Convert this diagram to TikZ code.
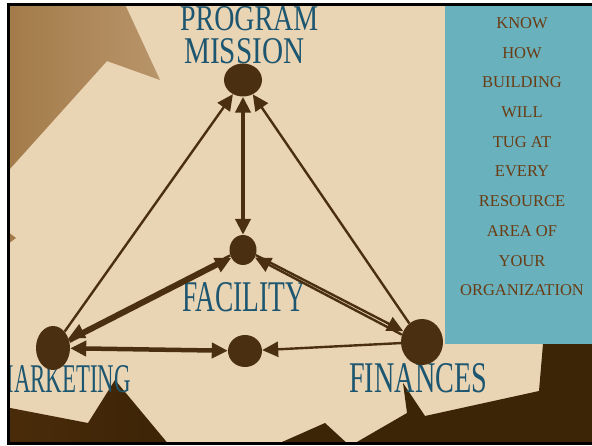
\documentclass[tikz,border=0pt]{standalone}
\usepackage{fontspec}
\usepackage{graphicx}
\setmainfont{Liberation Serif}
\usetikzlibrary{shapes.geometric,arrows.meta}

\definecolor{sand}{HTML}{E9D4B4}
\definecolor{wedgeDark}{HTML}{A27A48}
\definecolor{wedgeLight}{HTML}{B8946A}
\definecolor{ground}{HTML}{3C2406}
\definecolor{groundB}{HTML}{4A2C0A}
\definecolor{panel}{HTML}{69B1BC}
\definecolor{inkblue}{HTML}{1D5670}
\definecolor{nodebrown}{HTML}{4A3010}
\definecolor{paneltxt}{HTML}{6A3C14}

\tikzset{
  ball/.style={ellipse, fill=nodebrown, inner sep=0pt, draw=none},
  lbl/.style={inner sep=0pt, text=inkblue, font=\fontsize{30}{30}\selectfont},
  paneltext/.style={inner sep=0pt, text=paneltxt, anchor=base,
                    font=\fontsize{16.5}{18}\selectfont},
  toend/.style={-{Triangle[length=16pt,width=15pt]}},
  bothends/.style={{Triangle[length=16pt,width=15pt]}-{Triangle[length=16pt,width=15pt]}},
  thinlink/.style={draw=nodebrown, line width=2.4pt},
  thicklink/.style={draw=nodebrown, line width=4.5pt},
}

\begin{document}
\begin{tikzpicture}[x=1pt,y=-1pt]
\useasboundingbox (0,0) rectangle (592,446);
\fill[white] (0,0) rectangle (592,446);

\begin{scope}
  \clip (8,4.5) rectangle (592,443);
  \fill[sand] (0,0) rectangle (592,446);

  % brown wedge in the upper left and the small notch below it
  \shade[left color=wedgeDark, right color=wedgeLight]
    (0,0) -- (123,0) -- (160,80) -- (107,61) -- (0,180) -- cycle;
  \fill[wedgeDark] (0,226) -- (16,238) -- (0,250) -- cycle;

  % dark ground along the bottom
  \shade[left color=groundB, right color=ground]
    (0,406) -- (88,423) -- (115,380) -- (170,446) -- (0,446) -- cycle;
  \fill[ground]
    (273,446) -- (325,423) -- (350,446) -- (407,413) -- (403,383)
    -- (425,416) -- (539,391) -- (543,344) -- (600,344) -- (600,446) -- cycle;

  % side panel
  \fill[panel] (445,0) rectangle (600,344);

  % labels
  \node[lbl, anchor=base west] (lblpm1) at (180,31) {\resizebox{138pt}{24pt}{PROGRAM}};
  \node[lbl, anchor=base west] (lblpm2) at (184,64) {\resizebox{120pt}{25pt}{MISSION}};
  \node[lbl, anchor=base west] (lblfac) at (182,312) {\resizebox{123pt}{29pt}{FACILITY}};
  \node[lbl, anchor=base east] (lblmkt) at (131,392) {\resizebox{137pt}{27pt}{MARKETING}};
  \node[lbl, anchor=base west] (lblfin) at (349,392) {\resizebox{138pt}{29pt}{FINANCES}};

  % panel text
  \foreach \t [count=\i] in {KNOW,HOW,BUILDING,WILL,TUG AT,EVERY,RESOURCE,AREA OF,YOUR,ORGANIZATION}
    \node[paneltext] (line\i) at (522,{28.5+29.7*(\i-1)}) {\t};

  % nodes
  \node[ball, minimum width=38pt, minimum height=33pt] (pm)  at (243,80)  {};
  \node[ball, minimum width=27pt, minimum height=30pt] (fac) at (243,250) {};
  \node[ball, minimum width=34pt, minimum height=32pt] (mid) at (245,351) {};
  \node[ball, minimum width=34pt, minimum height=44pt] (mkt) at (53,348)  {};
  \node[ball, minimum width=42pt, minimum height=46pt] (fin) at (422,342) {};

  % connectors
  \draw[thinlink, toend] (mkt) -- (pm);
  \draw[thinlink, toend] (fin) -- (pm);
  \draw[thicklink, bothends] (pm) -- (fac);

  \draw[thicklink, toend] (mkt.24) -- (fac.214);
  \draw[thinlink, toend] (fac.203) -- (mkt.32);

  \draw[thinlink, toend] (fac.-22) -- (fin.150);
  \draw[thinlink, toend] (fin.160) -- (fac.-32);

  \draw[thicklink, bothends] (mkt) -- (mid);
  \draw[thinlink, toend] (fin) -- (mid);
\end{scope}

% frame
\draw[black, line width=3pt] (8,4.5) rectangle (594,443.5);
\end{tikzpicture}
\end{document}
